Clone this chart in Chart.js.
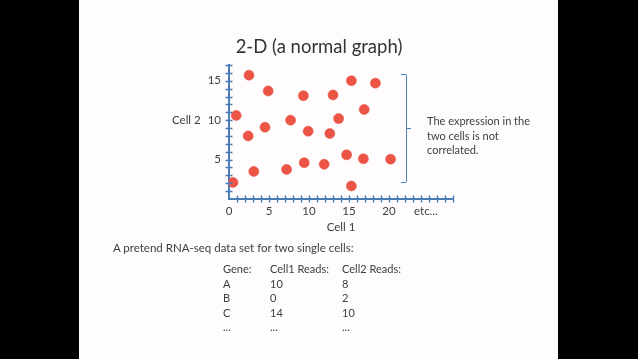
<!DOCTYPE html>
<html>
<head>
<meta charset="utf-8">
<script src="https://cdn.jsdelivr.net/npm/chart.js@4.4.1/dist/chart.umd.min.js"></script>
<style>
  html, body { margin:0; padding:0; width:638px; height:359px; background:#000; overflow:hidden; }
  #slide { position:absolute; left:79px; top:0; width:479px; height:359px; background:#fefcfc; }
  #c { position:absolute; left:0; top:0; }
  .t { position:absolute; font-family:'Lato','Open Sans',sans-serif; color:#404040; white-space:nowrap; }
  #title { left:0; width:638px; text-align:center; top:35px; font-size:18.5px; color:#333; }
  #bracket { position:absolute; left:401px; top:74px; width:5px; height:107px;
    border:1.6px solid #4a7ebb; border-left:none; border-radius:0 2px 2px 0; }
  #notch { position:absolute; left:407px; top:128px; width:4px; height:0; border-top:1.6px solid #4a7ebb; }
</style>
</head>
<body>
<div id="slide"></div>
<canvas id="c" width="638" height="359"></canvas>
<div class="t" id="title">2-D (a normal graph)</div>
<div class="t" id="ylab" style="left:172px; top:113px; font-size:11.5px;">Cell 2</div>
<div class="t" id="xlab" style="left:321px; top:220px; font-size:11.5px; width:40px; text-align:center;">Cell 1</div>
<div class="t" id="etc" style="left:414px; top:204px; font-size:11.5px;">etc...</div>
<div id="bracket"></div>
<div id="notch"></div>
<div class="t" id="note" style="left:427px; top:114px; font-size:11px; line-height:14.5px;">The expression in the<br>two cells is not<br>correlated.</div>
<div class="t" id="caption" style="left:113px; top:241px; font-size:11.5px;">A pretend RNA-seq data set for two single cells:</div>
<div id="table"></div>
<script>
// Scatter data (Cell 1 reads, Cell 2 reads)
const cell1 = [2.5, 4.9, 15.3, 18.3, 9.3, 13.0, 16.9, 0.9, 7.7, 13.7, 4.5, 2.4, 9.9, 12.6, 14.7, 16.8, 20.2, 9.4, 11.9, 7.2, 3.1, 0.5, 15.3];
const cell2 = [15.7, 13.7, 15.0, 14.7, 13.1, 13.2, 11.35, 10.6, 10.0, 10.2, 9.1, 8.0, 8.6, 8.3, 5.6, 5.1, 5.05, 4.6, 4.4, 3.75, 3.5, 2.1, 1.65];
// axis ranges and labelled ticks
const xMax = 28, yMax = 17;
const xTickLabels = [0, 5, 10, 15, 20];
const yTickLabels = [5, 10, 15];
// table below the chart
const tableHeader = ['Gene:', 'Cell1 Reads:', 'Cell2 Reads:'];
const genes = ['A', 'B', 'C', '...'];
const cell1Reads = ['10', '0', '14', '...'];
const cell2Reads = ['8', '2', '10', '...'];

// build table text
(function(){
  const cols = [223, 270, 342];
  const rowTop = 262, rowH = 14.5;
  const rows = [tableHeader].concat(genes.map((g,i)=>[g, cell1Reads[i], cell2Reads[i]]));
  const tbl = document.getElementById('table');
  rows.forEach((r, ri) => {
    r.forEach((txt, ci) => {
      const d = document.createElement('div');
      d.className = 't';
      d.style.left = cols[ci] + 'px';
      d.style.top = (rowTop + ri * rowH) + 'px';
      d.style.fontSize = '11px';
      d.textContent = txt;
      tbl.appendChild(d);
    });
  });
})();

const axisColor = '#4a7ebb';
const crossTicks = {
  id: 'crossTicks',
  afterDraw(chart) {
    const ctx = chart.ctx, xs = chart.scales.x, ys = chart.scales.y;
    const a = chart.chartArea;
    ctx.save();
    ctx.strokeStyle = axisColor;
    ctx.lineWidth = 1.4;
    ctx.beginPath();
    xs.ticks.forEach(t => {
      if (t.value === 0) return;
      const px = Math.round(xs.getPixelForValue(t.value)) + 0.5;
      ctx.moveTo(px, a.bottom - 3.5); ctx.lineTo(px, a.bottom + 3.5);
    });
    ys.ticks.forEach(t => {
      if (t.value === 0) return;
      const py = Math.round(ys.getPixelForValue(t.value)) + 0.5;
      ctx.moveTo(a.left - 3.5, py); ctx.lineTo(a.left + 3.5, py);
    });
    ctx.stroke();
    ctx.restore();
  }
};

new Chart(document.getElementById('c'), {
  type: 'scatter',
  data: {
    datasets: [{
      data: cell1.map((x, i) => ({ x: x, y: cell2[i] })),
      backgroundColor: '#ec5546',
      borderColor: '#e2483a',
      borderWidth: 0.5,
      pointRadius: 5,
      pointHoverRadius: 5
    }]
  },
  options: {
    responsive: false,
    animation: false,
    devicePixelRatio: 1,
    layout: { padding: { left: 189, top: 65, right: 185, bottom: 140 } },
    plugins: { legend: { display: false }, tooltip: { enabled: false } },
    scales: {
      x: {
        type: 'linear', min: 0, max: xMax,
        afterFit: s => { s.height = 20; },
        grid: { drawOnChartArea: false, drawTicks: false },
        border: { display: true, color: axisColor, width: 2 },
        ticks: {
          stepSize: 1, autoSkip: false, maxRotation: 0, padding: 5,
          color: '#404040', font: { family: 'Lato', size: 11.5 },
          callback: v => xTickLabels.includes(v) ? String(v) : ''
        }
      },
      y: {
        type: 'linear', min: 0, max: yMax,
        afterFit: s => { s.width = 40; },
        grid: { drawOnChartArea: false, drawTicks: false },
        border: { display: true, color: axisColor, width: 2 },
        ticks: {
          stepSize: 1, autoSkip: false, padding: 8,
          color: '#404040', font: { family: 'Lato', size: 11.5 },
          callback: v => yTickLabels.includes(v) ? String(v) : ''
        }
      }
    }
  },
  plugins: [crossTicks]
});
</script>
</body>
</html>
